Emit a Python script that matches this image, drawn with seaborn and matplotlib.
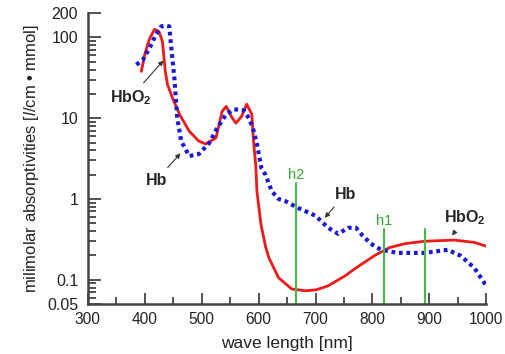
import numpy as np
import pandas as pd
import seaborn as sns
import matplotlib.pyplot as plt
from matplotlib.ticker import FixedLocator, NullFormatter

# HbO2 (solid red)
wl_hbo2 = [394, 400, 408, 417, 425, 431, 436, 440, 449, 461, 478, 495, 507, 525, 536, 543,
           552, 560, 570, 579, 588, 591, 595, 597, 604, 612, 618, 635, 658, 682, 701, 722,
           752, 769, 804, 830, 857, 892, 944, 979, 1000]
eps_hbo2 = [38, 62, 95, 126, 118, 89, 38, 26, 17.6, 11.2, 6.9, 5.2, 4.8, 5.7, 12.2, 14,
            10.5, 8.7, 10.5, 14.9, 11.2, 5.2, 2.6, 1.25, 0.49, 0.26, 0.187, 0.106, 0.077, 0.073, 0.075, 0.084,
            0.112, 0.137, 0.2, 0.25, 0.28, 0.30, 0.31, 0.29, 0.26]

# Hb (dotted blue)
wl_hb = [385, 396, 408, 420, 429, 436, 443, 446, 452, 457, 464, 478, 495, 513, 527, 543,
         557, 574, 583, 590, 597, 605, 612, 623, 635, 647, 670, 700, 722, 740, 757, 771,
         783, 797, 815, 844, 892, 932, 955, 979, 1000]
eps_hb = [46, 52, 73, 110, 137, 140, 137, 82, 31, 10, 5.2, 3.4, 3.6, 4.9, 7.5, 11.2,
          12.9, 12.5, 10, 7.5, 4.8, 2.4, 2.0, 1.25, 1.0, 0.94, 0.77, 0.62, 0.44, 0.37, 0.44, 0.44,
          0.35, 0.28, 0.235, 0.215, 0.215, 0.235, 0.198, 0.14, 0.084]

# green marker lines: wavelength, top value, label
line_wl = [665, 820, 893]
line_top = [1.58, 0.42, 0.43]
line_lbl = ['h2', 'h1', '']

plt.rcParams['mathtext.fontset'] = 'custom'
plt.rcParams['mathtext.rm'] = 'Liberation Sans'
plt.rcParams['mathtext.it'] = 'Liberation Sans:italic'
plt.rcParams['mathtext.bf'] = 'Liberation Sans:bold'

sns.set_style('ticks')
plt.rcParams['font.family'] = ['Liberation Sans', 'DejaVu Sans']

df_o = pd.DataFrame({'wl': wl_hbo2, 'eps': eps_hbo2})
df_d = pd.DataFrame({'wl': wl_hb, 'eps': eps_hb})

fig = plt.figure(figsize=(5.05, 3.54), dpi=100)
ax = fig.add_axes([0.174, 0.141, 0.789, 0.822])

sns.lineplot(data=df_o, x='wl', y='eps', sort=False, color='#ee1a1a', lw=2, ax=ax)
sns.lineplot(data=df_d, x='wl', y='eps', sort=False, color='#1a1ad6', lw=3,
             linestyle=(0, (0.9, 0.9)), ax=ax)

for w, t, lb in zip(line_wl, line_top, line_lbl):
    ax.plot([w, w], [0.05, t], color='#44bb44', lw=1.5)
    if lb:
        ax.text(w, t * 1.04, lb, color='#33aa33', fontsize=10.5, ha='center', va='bottom')

ax.set_yscale('log')
ax.set_xlim(300, 1000)
ax.set_ylim(0.05, 200)

ax.yaxis.set_major_locator(FixedLocator([0.05, 0.1, 1, 10, 100, 200]))
ax.set_yticklabels(['0.05', '0.1', '1', '10', '100', '200'])
minors = [m * 10.0 ** e for e in range(-2, 2) for m in range(2, 10)]
minors = [v for v in minors if 0.05 < v < 100 and v not in (0.1, 1, 10)]
ax.yaxis.set_minor_locator(FixedLocator(minors))
ax.yaxis.set_minor_formatter(NullFormatter())
ax.set_xticks(range(300, 1001, 100))
ax.set_xticks(range(350, 1000, 100), minor=True)

ax.tick_params(which='both', direction='in', colors='#444444', labelcolor='#222222',
               labelsize=11.5, width=1.3)
ax.tick_params(axis='x', labelsize=11.2)
ax.tick_params(axis='y', which='major', length=9, pad=7)
ax.tick_params(axis='y', which='minor', length=6)
ax.tick_params(axis='x', which='major', length=8, pad=6)
ax.tick_params(axis='x', which='minor', length=5)
sns.despine(ax=ax)
for s in ['left', 'bottom']:
    ax.spines[s].set_color('#444444')
    ax.spines[s].set_linewidth(1.8)

ax.set_xlabel('wave length [nm]', fontsize=12.5, color='#222222', labelpad=6)
ax.set_ylabel(r'milimolar absorptivities [$\mathit{l}$/cm • mmol]', fontsize=12,
              color='#222222', labelpad=4)

arrow = dict(arrowstyle='-|>', color='#333333', lw=0.8, mutation_scale=7)
ax.annotate(r'$\mathbf{HbO_2}$', xy=(436, 55), xytext=(375, 18), fontsize=11.5,
            ha='center', va='center', arrowprops=arrow)
ax.annotate('Hb', xy=(466, 3.9), xytext=(420, 1.7), fontsize=11.5, fontweight='bold',
            ha='center', va='center', arrowprops=arrow)
ax.annotate('Hb', xy=(713, 0.55), xytext=(752, 1.15), fontsize=11.5, fontweight='bold',
            ha='center', va='center', arrowprops=arrow)
ax.annotate(r'$\mathbf{HbO_2}$', xy=(937, 0.33), xytext=(962, 0.58), fontsize=11.5,
            ha='center', va='center', arrowprops=arrow)

fig.savefig('out.png', dpi=100)
